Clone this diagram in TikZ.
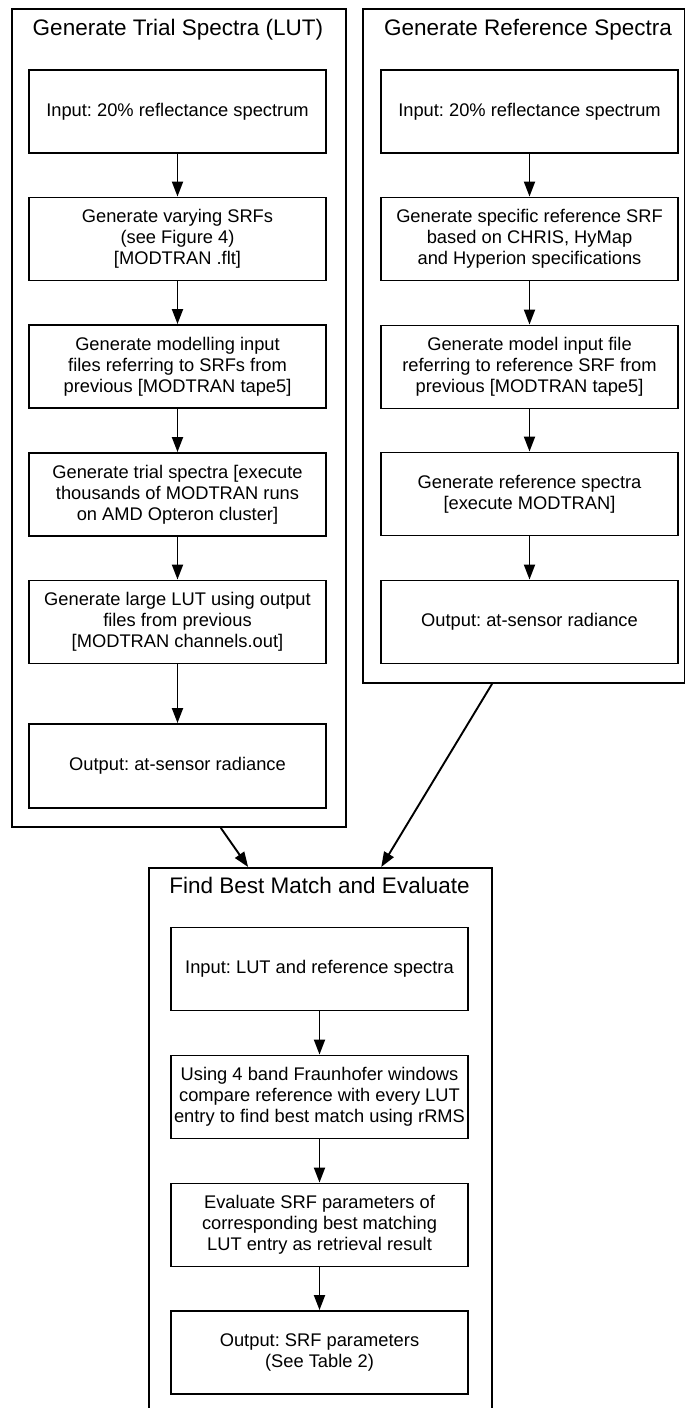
\documentclass[tikz,border=0pt]{standalone}
\usepackage{fontspec}
\setmainfont{Liberation Sans}
\usetikzlibrary{arrows.meta,intersections}
\frenchspacing
\begin{document}
\begin{tikzpicture}[x=1pt,y=-1pt,
  cluster/.style={draw,line width=1.9pt,inner sep=0pt,anchor=north west},
  title/.style={font=\fontsize{22.5}{26}\selectfont,inner sep=0pt,anchor=base},
  stepbox/.style={draw,line width=1.9pt,minimum width=297pt,minimum height=83pt,inner xsep=0pt,inner ysep=0pt,align=center,font=\fontsize{18.3}{21}\selectfont},
  arr/.style={line width=1.9pt,-{Triangle[length=15pt,width=11pt]}}]
\useasboundingbox (0,0) rectangle (685,1408);

% clusters
\node[cluster,minimum width=334pt,minimum height=818pt] (clL) at (11,8) {};
\node[cluster,minimum width=322pt,minimum height=674pt] (clR) at (362,8) {};
\node[cluster,minimum width=343pt,minimum height=543pt] (clB) at (148,867) {};

\node[title] (tL) at (178,35) {Generate Trial Spectra (LUT)};
\node[title] (tR) at (528,35) {Generate Reference Spectra};
\node[title] (tB) at (319.5,893) {Find Best Match and Evaluate};

% left column
\node[stepbox] (l1) at (177.5,111.5) {Input: 20\% reflectance spectrum};
\node[stepbox] (l2) at (177.5,239) {Generate varying SRFs\\(see Figure 4)\\{}[MODTRAN .flt]};
\node[stepbox] (l3) at (177.5,366.5) {Generate modelling input\\files referring to SRFs from\\previous [MODTRAN tape5]};
\node[stepbox] (l4) at (177.5,494.5) {Generate trial spectra [execute\\thousands of MODTRAN runs\\on AMD Opteron cluster]};
\node[stepbox] (l5) at (177.5,622) {Generate large LUT using output\\files from previous\\{}[MODTRAN channels.out]};
\node[stepbox,minimum height=84pt] (l6) at (177.5,766) {Output: at-sensor radiance};

% right column
\node[stepbox] (r1) at (529.5,111.5) {Input: 20\% reflectance spectrum};
\node[stepbox] (r2) at (529.5,239) {Generate specific reference SRF\\based on CHRIS, HyMap\\and Hyperion specifications};
\node[stepbox] (r3) at (529.5,367) {Generate model input file\\referring to reference SRF from\\previous [MODTRAN tape5]};
\node[stepbox] (r4) at (529.5,494) {Generate reference spectra\\{}[execute MODTRAN]};
\node[stepbox] (r5) at (529.5,622) {Output: at-sensor radiance};

% bottom column
\node[stepbox] (b1) at (319.5,969) {Input: LUT and reference spectra};
\node[stepbox] (b2) at (319.5,1097) {Using 4 band Fraunhofer windows\\compare reference with every LUT\\entry to find best match using rRMS};
\node[stepbox] (b3) at (319.5,1225) {Evaluate SRF parameters of\\corresponding best matching\\LUT entry as retrieval result};
\node[stepbox] (b4) at (319.5,1352.5) {Output: SRF parameters\\(See Table 2)};

% edges inside clusters
\draw[arr] (l1) -- (l2);
\draw[arr] (l2) -- (l3);
\draw[arr] (l3) -- (l4);
\draw[arr] (l4) -- (l5);
\draw[arr] (l5) -- (l6);
\draw[arr] (r1) -- (r2);
\draw[arr] (r2) -- (r3);
\draw[arr] (r3) -- (r4);
\draw[arr] (r4) -- (r5);
\draw[arr] (b1) -- (b2);
\draw[arr] (b2) -- (b3);
\draw[arr] (b3) -- (b4);

% edges between clusters
\path[name path=eL] (l6.center) -- (b1.center);
\path[name path=eR] (r5.center) -- (b1.center);
\path[name path=cLb] (clL.south west) -- (clL.south east);
\path[name path=cRb] (clR.south west) -- (clR.south east);
\path[name path=cBt] (clB.north west) -- (clB.north east);
\path[name intersections={of=eL and cLb,by=eLs}];
\path[name intersections={of=eL and cBt,by=eLe}];
\path[name intersections={of=eR and cRb,by=eRs}];
\path[name intersections={of=eR and cBt,by=eRe}];
\draw[arr] (eLs) -- (eLe);
\draw[arr] (eRs) -- (eRe);
\end{tikzpicture}
\end{document}
